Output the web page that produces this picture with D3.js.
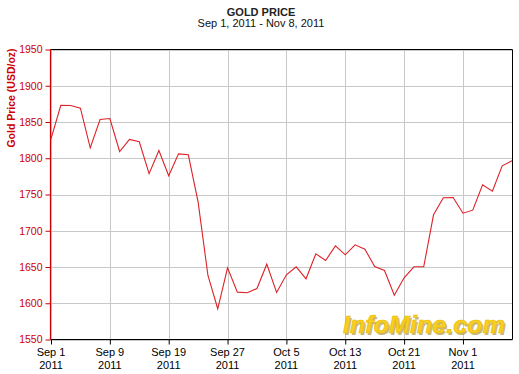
<!DOCTYPE html>
<html><head><meta charset="utf-8">
<script src="https://cdn.jsdelivr.net/npm/d3@7"></script>
<style>body{margin:0;background:#fff}svg{display:block}text{font-family:"Liberation Sans",Arial,sans-serif}</style>
</head><body><svg id="c" width="519" height="374"></svg>
<script>
const title = "GOLD PRICE";
const subtitle = "Sep 1, 2011 - Nov 8, 2011";
const yLabel = "Gold Price (USD/oz)";
const prices = [1826.8,1873.0,1872.8,1869.0,1814.4,1853.4,1854.8,1809.3,1825.9,1822.7,
  1778.6,1810.7,1775.8,1806.1,1804.8,1739.4,1638.3,1592.4,1648.9,1615.3,
  1614.4,1620.3,1653.9,1614.9,1639.2,1650.3,1633.7,1668.2,1659.0,1679.2,
  1666.8,1680.6,1674.6,1650.7,1645.2,1611.1,1635.1,1650.3,1650.3,1722.0,
  1745.5,1745.9,1724.2,1728.4,1763.4,1754.6,1789.6,1796.5];
const tickIndex = [0,6,12,18,24,30,36,42];
const tickLabels = [["Sep 1","2011"],["Sep 9","2011"],["Sep 19","2011"],["Sep 27","2011"],["Oct 5","2011"],["Oct 13","2011"],["Oct 21","2011"],["Nov 1","2011"]];
const yTicks = [1550,1600,1650,1700,1750,1800,1850,1900,1950];

const svg = d3.select("#c");
const L=50.5, R=512.5, T=49.5, B=339.5;
const x = d3.scaleLinear().domain([0,prices.length-1]).range([L+0.5,R-0.5]);
const y = d3.scaleLinear().domain([1550,1950]).range([B,T]);

// grid
svg.append("g").selectAll("line").data(yTicks).join("line")
  .attr("x1",L).attr("x2",R).attr("y1",d=>Math.round(y(d))-0.5+1).attr("y2",d=>Math.round(y(d))-0.5+1)
  .attr("stroke","#c8c8c8").attr("stroke-width",1);
svg.append("g").selectAll("line").data(tickIndex).join("line")
  .attr("x1",d=>Math.round(x(d))+0.5).attr("x2",d=>Math.round(x(d))+0.5).attr("y1",T).attr("y2",B)
  .attr("stroke","#c8c8c8").attr("stroke-width",1);

// logo
const logo = svg.append("g").attr("transform","translate(424,333)");
logo.append("text").text("InfoMine.com").attr("x",1.5).attr("y",1.5).attr("text-anchor","middle")
  .attr("font-size",24).attr("font-weight","bold").attr("font-style","italic")
  .attr("textLength",162).attr("lengthAdjust","spacingAndGlyphs").attr("fill","#b09a40").attr("opacity",0.7);
logo.append("text").text("InfoMine.com").attr("text-anchor","middle")
  .attr("font-size",24).attr("font-weight","bold").attr("font-style","italic")
  .attr("textLength",162).attr("lengthAdjust","spacingAndGlyphs").attr("fill","#f8cf22")
  .attr("stroke","#e8b800").attr("stroke-width",0.6);

// frame
svg.append("path").attr("d",`M${L},${T}H${R}V${B}H${L}`).attr("fill","none").attr("stroke","#000").attr("stroke-width",1);

// x axis
const xAxis = d3.axisBottom(x).tickValues(tickIndex).tickSize(5).tickFormat("");
const gx = svg.append("g").attr("transform",`translate(0,${B})`).call(xAxis);
gx.select(".domain").remove();
gx.selectAll(".tick line").attr("stroke","#000");
tickIndex.forEach((t,i)=>{
  const tx = svg.append("text").attr("x",x(t)).attr("y",356).attr("text-anchor","middle").attr("font-size",11).attr("fill","#000");
  tx.text(tickLabels[i][0]);
  svg.append("text").attr("x",x(t)).attr("y",368.5).attr("text-anchor","middle").attr("font-size",11).attr("fill","#000").text(tickLabels[i][1]);
});

// y axis
const yAxis = d3.axisLeft(y).tickValues(yTicks).tickSize(5).tickPadding(3).tickFormat(d3.format("d"));
const gy = svg.append("g").attr("transform",`translate(${L},0)`).call(yAxis);
gy.select(".domain").attr("stroke","#cc0000").attr("d",`M0,${T}V${B}`);
gy.selectAll(".tick line").attr("stroke","#cc0000");
gy.selectAll(".tick text").attr("fill","#cc0000").attr("font-size",10.5).attr("font-family","'Liberation Sans',Arial,sans-serif");
svg.append("line").attr("x1",L).attr("x2",L).attr("y1",T).attr("y2",B).attr("stroke","#cc0000").attr("stroke-width",1.2);

// line
svg.append("path").datum(prices)
  .attr("d",d3.line().x((d,i)=>x(i)).y(d=>y(d)))
  .attr("fill","none").attr("stroke","#dd2228").attr("stroke-width",1.1).attr("stroke-linejoin","miter");

// titles
svg.append("text").attr("x",261).attr("y",15.5).attr("text-anchor","middle").attr("font-size",11).attr("font-weight","bold").attr("fill","#222").text(title);
svg.append("text").attr("x",261).attr("y",27).attr("text-anchor","middle").attr("font-size",11).attr("fill","#111").text(subtitle);
svg.append("text").attr("transform","translate(15,98) rotate(-90)").attr("text-anchor","middle")
  .attr("font-size",10.5).attr("font-weight","bold").attr("fill","#cc0000").text(yLabel);
</script></body></html>
